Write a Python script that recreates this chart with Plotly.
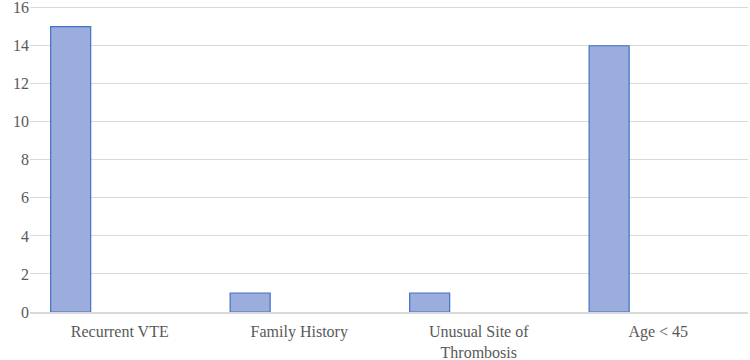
import plotly.graph_objects as go

categories = ["Recurrent VTE", "Family History", "Unusual Site of<br>Thrombosis", "Age < 45"]
values = [15, 1, 1, 14]
y_ticks = [0, 2, 4, 6, 8, 10, 12, 14, 16]

fig = go.Figure()
fig.add_trace(go.Bar(
    x=categories, y=values,
    width=0.223, offset=-0.385,
    marker=dict(color="#9aaddd", line=dict(color="#4472c4", width=1.2)),
))
fig.update_layout(
    width=750, height=360,
    margin=dict(l=30, r=2, t=2, b=48),
    paper_bgcolor="white", plot_bgcolor="white",
    font=dict(family="Liberation Serif", size=16, color="#595959"),
    showlegend=False,
)
fig.update_xaxes(showgrid=False, showline=True, linecolor="#d9d9d9", linewidth=1.5,
                 ticks="", automargin=False, ticklabelstandoff=4,
                 tickfont=dict(family="Liberation Serif", size=16, color="#595959"))
fig.update_yaxes(range=[0, 16.3], tickvals=y_ticks, showgrid=True, gridcolor="#d9d9d9",
                 gridwidth=1.2, zeroline=False, showline=False, ticks="", automargin=False,
                 ticklabeloverflow="allow",
                 tickfont=dict(family="Liberation Serif", size=16, color="#595959"))
fig.write_html("out.html", config={"displayModeBar": False},
               post_script="document.body.style.margin='0px';")
